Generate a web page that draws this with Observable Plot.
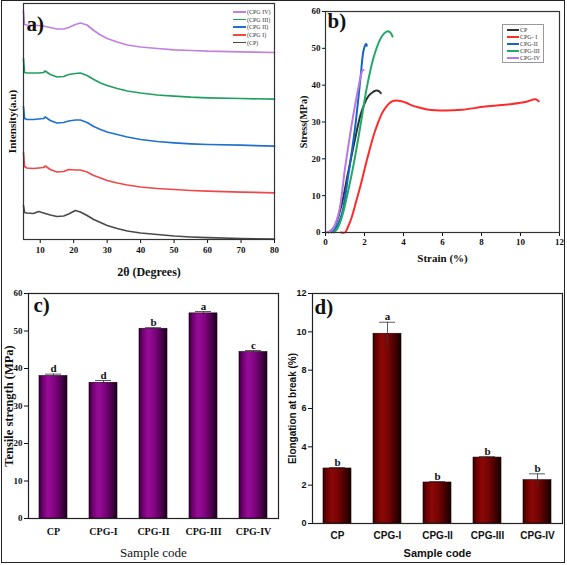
<!DOCTYPE html>
<html><head><meta charset="utf-8">
<script src="https://cdn.jsdelivr.net/npm/d3@7"></script>
<script src="https://cdn.jsdelivr.net/npm/@observablehq/plot@0.6"></script>
<style>
body{margin:0;background:#fff;}
#fig{position:relative;width:567px;height:565px;overflow:hidden;background:#fff;}
.panel{position:absolute;}
.border{position:absolute;left:1px;top:0;width:564px;height:563px;border:1.5px solid #222;box-sizing:border-box;pointer-events:none;}
.lg{position:absolute;font-family:"Liberation Serif",serif;font-size:6px;color:#333;white-space:nowrap;}
.lg .row{position:absolute;left:0;height:6px;line-height:6px;}
.lg .sw{position:absolute;left:0;top:2px;height:2px;}
.lg .tx{position:absolute;top:0;}
</style></head>
<body><div id="fig"></div>
<script>
// ---------- Panel a: XRD ----------
const xrdAngle = [5, 5.3, 6, 8, 9.5, 11, 11.5, 13, 15, 17, 18.5, 20.5, 22, 24, 26, 28, 30, 33, 36, 40, 45, 50, 55, 60, 70, 80];
const xrdCP     = [34, 27, 26.5, 26, 28, 26.5, 26, 24.5, 23, 23.5, 25.5, 29, 27.5, 24, 20, 17, 14, 11, 8.5, 6.5, 5, 3.5, 2.5, 1.8, 1, 0.3];
const xrdCPGI   = [87, 73, 71.5, 71, 71.5, 72, 73.5, 70, 67.5, 68, 70, 69.5, 69.5, 67.5, 64, 61.5, 59, 56.5, 54.5, 52.5, 51, 50, 49, 48.3, 47.3, 46.7];
const xrdCPGII  = [133, 121, 120, 120, 120.5, 121, 122.5, 119, 116.5, 117, 118.5, 119.5, 119.5, 117, 113, 110, 107.5, 105, 102.5, 100, 98, 96.7, 95.7, 95, 94.3, 93.3];
const xrdCPGIII = [181, 167, 166.5, 166.5, 166.5, 167, 168.5, 165, 162.5, 163, 165, 166, 166.5, 164, 160, 156.5, 154, 151, 148.5, 146.5, 144.5, 143.3, 142.3, 141.7, 141, 140.3];
const xrdCPGIV  = [228, 215, 214.5, 214, 214, 213.5, 213, 212, 210.5, 210.5, 212, 215, 216.5, 214.5, 209, 204.5, 201, 197.5, 194.5, 192.5, 191, 189.7, 189, 188.3, 187.7, 187];
const xrdNames  = ["(CP)", "(CPG I)", "(CPG II)", "(CPG III)", "(CPG IV)"];
const xrdColors = ["#4a4a4a", "#f04848", "#2070d0", "#20a060", "#c080e0"];
const xrdTicks  = [10, 20, 30, 40, 50, 60, 70, 80];

// ---------- Panel b: stress-strain ----------
const strainCP = [0.15, 0.45, 0.8, 1.15, 1.5, 1.8, 2.0, 2.2, 2.4, 2.55, 2.7, 2.78, 2.84];
const stressCP = [0, 1.5, 7, 16, 25, 32, 35, 37, 38, 38.5, 38.5, 38.2, 37.8];
const strainCPGI = [0.8, 1.0, 1.15, 1.35, 1.55, 1.78, 2.12, 2.55, 2.98, 3.41, 3.75, 4.1, 4.43, 4.9, 5.29, 6.15, 7.0, 8.2, 9.57, 10.3, 10.77, 10.94];
const stressCPGI = [0, 0, 1.5, 4.2, 8, 12.4, 19.6, 27.7, 33.1, 35.6, 35.8, 35.3, 34.5, 33.8, 33.3, 33.1, 33.3, 34.2, 34.9, 35.5, 36.2, 35.6];
const strainCPGII = [0.3, 0.5, 0.84, 1.18, 1.52, 1.78, 1.95, 2.05, 2.09, 2.12];
const stressCPGII = [0, 1, 5.1, 16, 28.6, 41.2, 49.4, 51, 51.2, 50.7];
const strainCPGIII = [0.4, 0.6, 0.84, 1.35, 1.78, 2.12, 2.47, 2.81, 3.0, 3.15, 3.32, 3.44];
const stressCPGIII = [0, 1, 4.2, 16, 28.6, 39.4, 47.6, 52.5, 54, 54.6, 54.3, 53.2];
const strainCPGIV = [0, 0.33, 0.67, 1.01, 1.35, 1.69, 1.9, 1.95];
const stressCPGIV = [0, 0.6, 5.1, 17.8, 29.5, 39.4, 44, 44.1];
const ssNames  = ["CP", "CPG- I", "CPG-II", "CPG-III", "CPG-IV"];
const ssColors = ["#303030", "#ff2a2a", "#1565c8", "#22a868", "#b878e8"];
const strainTicks = [0, 2, 4, 6, 8, 10, 12];
const stressTicks = [0, 10, 20, 30, 40, 50, 60];

// ---------- Panels c, d: bars ----------
const sampleCodes = ["CP", "CPG-I", "CPG-II", "CPG-III", "CPG-IV"];
const tensile     = [38.0, 36.2, 50.6, 54.7, 44.4];
const tensileErr  = [0.5, 0.6, 0.3, 0.5, 0.4];
const tensileSig  = ["d", "d", "b", "a", "c"];
const tensileTicks = [0, 10, 20, 30, 40, 50, 60];
const elong       = [2.87, 9.9, 2.14, 3.44, 2.26];
const elongErr    = [0.05, 0.6, 0.05, 0.05, 0.33];
const elongSig    = ["b", "a", "b", "b", "b"];
const elongTicks  = [0, 2, 4, 6, 8, 10, 12];

// ---------- build tables ----------
const xrdSets = [xrdCP, xrdCPGI, xrdCPGII, xrdCPGIII, xrdCPGIV];
const xrdRows = xrdSets.flatMap((vals, s) => vals.map((v, i) => ({angle: xrdAngle[i], intensity: v, series: xrdNames[s]})));
const ssSets = [[strainCP, stressCP], [strainCPGI, stressCPGI], [strainCPGII, stressCPGII], [strainCPGIII, stressCPGIII], [strainCPGIV, stressCPGIV]];
const ssRows = ssSets.flatMap(([xs, ys], s) => xs.map((x, i) => ({strain: x, stress: ys[i], series: ssNames[s]})));
const tRows = sampleCodes.map((c, i) => ({code: c, v: tensile[i], e: tensileErr[i], sig: tensileSig[i]}));
const eRows = sampleCodes.map((c, i) => ({code: c, v: elong[i], e: elongErr[i], sig: elongSig[i]}));

const serif = '"Liberation Serif", "Times New Roman", serif';
const sans = '"Liberation Sans", Arial, sans-serif';
const fig = document.getElementById("fig");

function place(el, left, top) {
  el.classList.add("panel");
  el.style.left = left + "px";
  el.style.top = top + "px";
  fig.appendChild(el);
}
function addGradient(svg, id, stops) {
  const defs = d3.select(svg).insert("defs", ":first-child");
  const g = defs.append("linearGradient").attr("id", id)
    .attr("x1", "0%").attr("x2", "100%").attr("y1", "0%").attr("y2", "0%");
  stops.forEach(([o, c]) => g.append("stop").attr("offset", o).attr("stop-color", c));
}
const T = (s) => [s];
const id = (d) => d;
const yLabel = (s, dx, fontSize, extra = {}) =>
  Plot.text(T(s), {text: id, frameAnchor: "left", textAnchor: "middle", lineAnchor: "middle", dx, rotate: -90, fontSize, ...extra});
const xLabel = (s, dy, fontSize, extra = {}) =>
  Plot.text(T(s), {text: id, frameAnchor: "bottom", textAnchor: "middle", lineAnchor: "middle", dy, fontSize, ...extra});
const tag = (s, dx, dy, extra = {}) =>
  Plot.text(T(s), {text: id, frameAnchor: "top-left", textAnchor: "start", lineAnchor: "middle", dx, dy, fontSize: 21, ...extra});

// Panel a
const plotA = Plot.plot({
  width: 285, height: 281,
  marginLeft: 23, marginRight: 11, marginTop: 3, marginBottom: 42,
  style: {fontFamily: serif, fontSize: "9px", fontWeight: "bold", color: "#111", background: "transparent"},
  x: {domain: [5, 80]},
  y: {domain: [0, 236], axis: null},
  color: {domain: xrdNames, range: xrdColors},
  marks: [
    Plot.line(xrdRows, {x: "angle", y: "intensity", z: "series", stroke: "series", strokeWidth: 1.7}),
    Plot.axisX({ticks: xrdTicks, tickSize: 4, tickPadding: 3, label: null, fontSize: 9}),
    Plot.frame({stroke: "#333", strokeWidth: 1.2}),
    tag("a)", 3, 21),
    xLabel("2θ (Degrees)", 33, 12),
    yLabel("Intensity(a.u)", -11, 11)
  ]
});
place(plotA, 0, 0);

// Panel b
const plotB = Plot.plot({
  width: 282, height: 281,
  marginLeft: 40, marginRight: 8, marginTop: 11, marginBottom: 49,
  style: {fontFamily: serif, fontSize: "9px", fontWeight: "bold", color: "#111", background: "transparent"},
  x: {domain: [0, 12]},
  y: {domain: [0, 60]},
  color: {domain: ssNames, range: ssColors},
  marks: [
    Plot.line(ssRows, {x: "strain", y: "stress", z: "series", stroke: "series", strokeWidth: 2, curve: "catmull-rom"}),
    Plot.axisX({ticks: strainTicks, tickSize: 4, tickPadding: 2, label: null, fontSize: 9}),
    Plot.axisY({ticks: stressTicks, tickSize: 3, tickPadding: 2, label: null, fontSize: 9}),
    Plot.frame({stroke: "#333", strokeWidth: 1.2}),
    tag("b)", 2, 10),
    xLabel("Strain (%)", 26, 11),
    yLabel("Stress(MPa)", -22, 10)
  ]
});
place(plotB, 285, 0);

// Panel c
const plotC = Plot.plot({
  width: 285, height: 284,
  marginLeft: 28, marginRight: 7, marginTop: 12, marginBottom: 47,
  style: {fontFamily: serif, fontSize: "9px", fontWeight: "bold", color: "#111", background: "transparent"},
  x: {domain: sampleCodes, paddingInner: 0.45, paddingOuter: 0.225},
  y: {domain: [0, 60]},
  marks: [
    Plot.barY(tRows, {x: "code", y: "v", fill: "url(#gradC)", stroke: "#1a001a", strokeWidth: 0.6}),
    Plot.ruleX(tRows, {x: "code", y1: (d) => d.v - d.e, y2: (d) => d.v + d.e, stroke: "#333", strokeWidth: 0.8}),
    Plot.tickY(tRows, {x: "code", y: (d) => d.v + d.e, insetLeft: 22, insetRight: 22, stroke: "#333", strokeWidth: 0.8}),
    Plot.text(tRows, {x: "code", y: (d) => d.v + d.e, text: "sig", dy: -2, lineAnchor: "bottom", fontSize: 11}),
    Plot.axisX({tickSize: 0, tickPadding: 9, label: null, fontSize: 10}),
    Plot.axisY({ticks: tensileTicks, tickSize: 4, tickPadding: 2, label: null, fontSize: 9}),
    Plot.frame({stroke: "#222", strokeWidth: 1.2}),
    tag("c)", 5, 12),
    xLabel("Sample code", 34, 13, {fontWeight: "normal"}),
    yLabel("Tensile strength (MPa)", -20, 12.5)
  ]
});
addGradient(plotC, "gradC", [["0%", "#2a0030"], ["12%", "#6e006e"], ["32%", "#980c98"], ["55%", "#820482"], ["80%", "#4e004e"], ["100%", "#1a001a"]]);
place(plotC, 0, 281);

// Panel d
const plotD = Plot.plot({
  width: 282, height: 284,
  marginLeft: 27, marginRight: 5, marginTop: 12, marginBottom: 42,
  style: {fontFamily: sans, fontSize: "9px", fontWeight: "bold", color: "#111", background: "transparent"},
  x: {domain: sampleCodes, paddingInner: 0.45, paddingOuter: 0.225},
  y: {domain: [0, 12]},
  marks: [
    Plot.barY(eRows, {x: "code", y: "v", fill: "url(#gradD)", stroke: "#1a0000", strokeWidth: 0.6}),
    Plot.ruleX(eRows, {x: "code", y1: (d) => d.v - d.e, y2: (d) => d.v + d.e, stroke: "#333", strokeWidth: 0.8}),
    Plot.tickY(eRows, {x: "code", y: (d) => d.v + d.e, insetLeft: 22, insetRight: 22, stroke: "#333", strokeWidth: 0.8}),
    Plot.text(eRows, {x: "code", y: (d) => d.v + d.e, text: "sig", dy: -2, lineAnchor: "bottom", fontSize: 11, fontFamily: serif}),
    Plot.axisX({tickSize: 0, tickPadding: 8, label: null, fontSize: 10}),
    Plot.axisY({ticks: elongTicks, tickSize: 4, tickPadding: 2, label: null, fontSize: 9}),
    Plot.frame({stroke: "#222", strokeWidth: 1.2}),
    tag("d)", 2, 14, {fontFamily: serif}),
    xLabel("Sample code", 30, 11),
    yLabel("Elongation at break (%)", -20, 10)
  ]
});
addGradient(plotD, "gradD", [["0%", "#300000"], ["12%", "#6a0000"], ["32%", "#8c0808"], ["55%", "#760404"], ["80%", "#420000"], ["100%", "#160000"]]);
place(plotD, 285, 281);

// ---------- legends ----------
function legend(left, top, names, colors, step, swW, lineW, box) {
  const lg = document.createElement("div");
  lg.className = "lg";
  lg.style.left = left + "px";
  lg.style.top = top + "px";
  if (box) {
    lg.style.border = "0.6px solid #999";
    lg.style.width = box[0] + "px";
    lg.style.height = box[1] + "px";
  }
  names.forEach((n, i) => {
    const row = document.createElement("div");
    row.className = "row";
    row.style.top = (box ? 2 : 0) + i * step + "px";
    row.style.left = (box ? 4 : 0) + "px";
    const sw = document.createElement("div");
    sw.className = "sw";
    sw.style.width = swW + "px";
    sw.style.height = lineW + "px";
    sw.style.background = colors[i];
    const tx = document.createElement("div");
    tx.className = "tx";
    tx.style.left = (swW + 1) + "px";
    tx.textContent = n;
    row.appendChild(sw); row.appendChild(tx);
    lg.appendChild(row);
  });
  fig.appendChild(lg);
}
legend(233, 9, xrdNames.slice().reverse(), xrdColors.slice().reverse(), 7.7, 13, 1.5, null);
legend(502, 24, ssNames, ssColors, 7, 12, 2, [40, 37]);

const border = document.createElement("div");
border.className = "border";
fig.appendChild(border);
</script>
</body></html>
